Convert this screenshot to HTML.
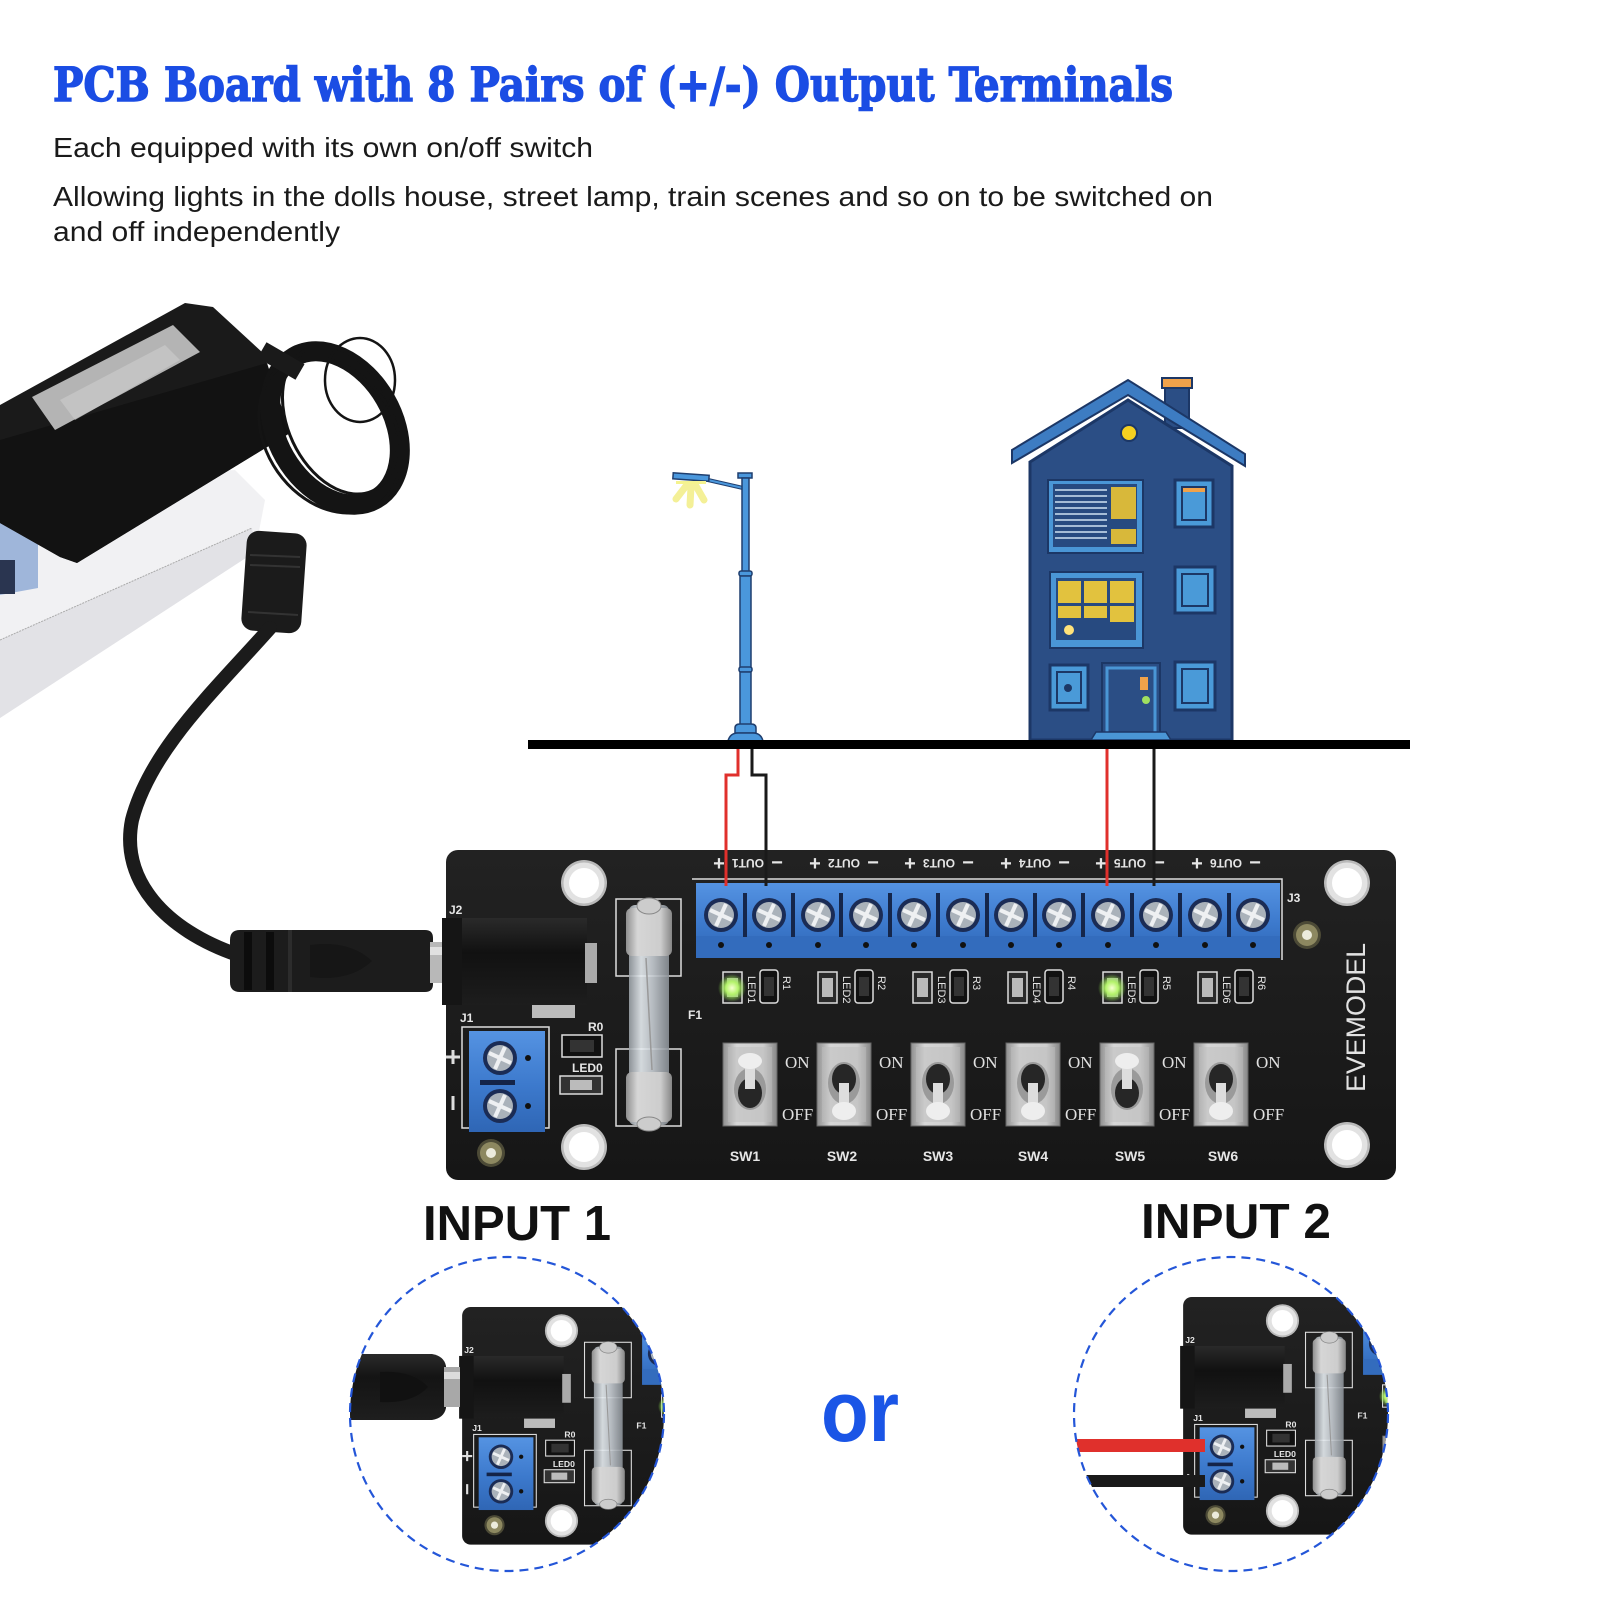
<!DOCTYPE html>
<html><head><meta charset="utf-8">
<style>
html,body{margin:0;padding:0;background:#fff;}
svg{display:block}
</style></head><body>
<svg width="1601" height="1601" viewBox="0 0 1601 1601" xmlns="http://www.w3.org/2000/svg" xmlns:xlink="http://www.w3.org/1999/xlink">
<defs>
 <linearGradient id="pcb" x1="0" y1="0" x2="0" y2="1"><stop offset="0" stop-color="#222"/><stop offset="1" stop-color="#161616"/></linearGradient>
 <linearGradient id="blue" x1="0" y1="0" x2="0" y2="1"><stop offset="0" stop-color="#5593e2"/><stop offset="0.55" stop-color="#3c79cc"/><stop offset="1" stop-color="#2f66b5"/></linearGradient>
 <linearGradient id="silver" x1="0" y1="0" x2="1" y2="0"><stop offset="0" stop-color="#8f8f8f"/><stop offset="0.25" stop-color="#d6d6d6"/><stop offset="0.75" stop-color="#cdcdcd"/><stop offset="1" stop-color="#868686"/></linearGradient>
 <linearGradient id="glass" x1="0" y1="0" x2="1" y2="0"><stop offset="0" stop-color="#9aa0a6"/><stop offset="0.3" stop-color="#e8eef2"/><stop offset="0.6" stop-color="#c6ccd2"/><stop offset="1" stop-color="#8a9096"/></linearGradient>
 <linearGradient id="jack" x1="0" y1="0" x2="0" y2="1"><stop offset="0" stop-color="#2a2a2a"/><stop offset="0.4" stop-color="#111"/><stop offset="1" stop-color="#1d1d1d"/></linearGradient>
 <linearGradient id="plugg" x1="0" y1="0" x2="0" y2="1"><stop offset="0" stop-color="#2a2a2a"/><stop offset="0.35" stop-color="#141414"/><stop offset="1" stop-color="#1e1e1e"/></linearGradient>
 <radialGradient id="glow"><stop offset="0" stop-color="#f6ffd0"/><stop offset="0.45" stop-color="#b4f36a"/><stop offset="1" stop-color="#7fd640" stop-opacity="0"/></radialGradient>
 <clipPath id="c1"><circle cx="507" cy="1414" r="157"/></clipPath>
 <clipPath id="c2"><circle cx="1231" cy="1414" r="157"/></clipPath>

 <g id="screw"><circle r="17" fill="#1b2c55"/><circle r="13" fill="#aab2ba"/><path d="M-11 -5 L11 5 M-5 11 L5 -11" stroke="#eef0f2" stroke-width="4"/></g>
 <g id="mh"><circle r="23" fill="#b9b9b9"/><circle r="20.5" fill="#e2e2e2"/><circle r="15" fill="#fff"/></g>
 <g id="ring"><circle r="14" fill="#4c4a36"/><circle r="11" fill="#8d8860"/><circle r="5" fill="#ecebdc"/></g>

 <g id="plug">
  <path d="M240 930 L425 930 Q433 930 433 938 L433 984 Q433 992 425 992 L240 992 Q230 992 230 982 L230 940 Q230 930 240 930 Z" fill="#1c1c1c"/>
  <rect x="244" y="932" width="8" height="58" fill="#0c0c0c"/>
  <rect x="266" y="932" width="8" height="58" fill="#0c0c0c"/>
  <rect x="288" y="930" width="4" height="62" fill="#2c2c2c"/>
  <path d="M310 945 Q350 940 372 961 Q350 982 310 977 Z" fill="#161616"/>
  <rect x="430" y="942" width="14" height="41" fill="#b8b8b8"/>
  <rect x="430" y="947" width="14" height="8" fill="#e0e0e0"/>
 </g>

 <g id="board">
  <rect x="446" y="850" width="950" height="330" rx="12" fill="url(#pcb)"/>
  <use href="#mh" x="584" y="883"/>
  <use href="#mh" x="584" y="1147"/>
  <use href="#mh" x="1347" y="883"/>
  <use href="#mh" x="1347" y="1145"/>
  <use href="#ring" x="491" y="1153"/>
  <use href="#ring" x="1307" y="935"/>
  <g font-family="Liberation Sans, sans-serif" font-weight="bold" fill="#e6e6e6" font-size="12">
   <text x="449" y="914">J2</text>
   <text x="460" y="1022">J1</text>
   <text x="588" y="1031">R0</text>
   <text x="572" y="1072">LED0</text>
   <text x="688" y="1019">F1</text>
   <text x="1287" y="902">J3</text>
  </g>
  <rect x="442" y="918" width="145" height="87" fill="url(#jack)"/>
  <rect x="442" y="918" width="20" height="87" fill="#151515"/>
  <rect x="585" y="943" width="12" height="40" fill="#aaa"/>
  <rect x="532" y="1005" width="43" height="13" fill="#bbb"/>
  <rect x="462" y="1027" width="87" height="101" fill="none" stroke="#ddd" stroke-width="1.5"/>
  <rect x="469" y="1031" width="76" height="101" fill="url(#blue)"/>
  <rect x="480" y="1080" width="35" height="5" fill="#142448"/>
  <use href="#screw" x="500" y="1058"/>
  <use href="#screw" x="500" y="1106"/>
  <circle cx="528" cy="1058" r="3" fill="#111"/>
  <circle cx="528" cy="1106" r="3" fill="#111"/>
  <path d="M446 1057 H460 M453 1050 V1064" stroke="#ddd" stroke-width="3"/>
  <path d="M453 1096 V1110" stroke="#ddd" stroke-width="3"/>
  <rect x="562" y="1035" width="40" height="22" fill="#111" stroke="#ddd" stroke-width="1.5"/>
  <rect x="570" y="1040" width="24" height="12" fill="#333"/>
  <rect x="560" y="1076" width="42" height="18" fill="#333" stroke="#ddd" stroke-width="1.5"/>
  <rect x="570" y="1080" width="22" height="10" fill="#bbb"/>
  <rect x="616" y="899" width="65" height="77" fill="none" stroke="#ddd" stroke-width="1.5"/>
  <rect x="616" y="1049" width="65" height="77" fill="none" stroke="#ddd" stroke-width="1.5"/>
  <rect x="629" y="905" width="40" height="220" rx="6" fill="url(#glass)" opacity="0.9"/>
  <rect x="626" y="908" width="46" height="48" rx="6" fill="url(#silver)"/>
  <rect x="626" y="1072" width="46" height="50" rx="6" fill="url(#silver)"/>
  <ellipse cx="649" cy="906" rx="12" ry="8" fill="#ccc" stroke="#888"/>
  <ellipse cx="649" cy="1124" rx="12" ry="7" fill="#ccc" stroke="#888"/>
  <line x1="646" y1="958" x2="652" y2="1070" stroke="#999" stroke-width="1.5"/>
  <path d="M692 879 H1282 V960" fill="none" stroke="#ddd" stroke-width="1.5"/>
  <rect x="696" y="883" width="584" height="75" fill="url(#blue)"/>
  <rect x="696" y="936" width="584" height="22" fill="#336cbd"/>
  <g fill="#15264a">
   <rect x="743" y="893" width="4" height="44"/><rect x="791" y="893" width="4" height="44"/><rect x="839" y="893" width="4" height="44"/><rect x="888" y="893" width="4" height="44"/><rect x="936" y="893" width="4" height="44"/><rect x="985" y="893" width="4" height="44"/><rect x="1033" y="893" width="4" height="44"/><rect x="1081" y="893" width="4" height="44"/><rect x="1130" y="893" width="4" height="44"/><rect x="1178" y="893" width="4" height="44"/><rect x="1227" y="893" width="4" height="44"/>
  </g>
  <use href="#screw" x="721" y="915"/><use href="#screw" x="769" y="915"/><use href="#screw" x="818" y="915"/><use href="#screw" x="866" y="915"/><use href="#screw" x="914" y="915"/><use href="#screw" x="963" y="915"/><use href="#screw" x="1011" y="915"/><use href="#screw" x="1059" y="915"/><use href="#screw" x="1108" y="915"/><use href="#screw" x="1156" y="915"/><use href="#screw" x="1205" y="915"/><use href="#screw" x="1253" y="915"/>
  <g fill="#111">
   <circle cx="721" cy="945" r="3"/><circle cx="769" cy="945" r="3"/><circle cx="818" cy="945" r="3"/><circle cx="866" cy="945" r="3"/><circle cx="914" cy="945" r="3"/><circle cx="963" cy="945" r="3"/><circle cx="1011" cy="945" r="3"/><circle cx="1059" cy="945" r="3"/><circle cx="1108" cy="945" r="3"/><circle cx="1156" cy="945" r="3"/><circle cx="1205" cy="945" r="3"/><circle cx="1253" cy="945" r="3"/>
  </g>
  <g font-family="Liberation Sans, sans-serif" font-weight="bold" fill="#e6e6e6">
   <g font-size="20" text-anchor="middle">
    <text x="719" y="870">+</text><text x="777" y="869">−</text>
    <text x="815" y="870">+</text><text x="873" y="869">−</text>
    <text x="910" y="870">+</text><text x="968" y="869">−</text>
    <text x="1006" y="870">+</text><text x="1064" y="869">−</text>
    <text x="1101" y="870">+</text><text x="1159" y="869">−</text>
    <text x="1197" y="870">+</text><text x="1255" y="869">−</text>
   </g>
   <g font-size="12" text-anchor="middle">
    <text transform="rotate(180 748 863)" x="748" y="867">OUT1</text>
    <text transform="rotate(180 844 863)" x="844" y="867">OUT2</text>
    <text transform="rotate(180 939 863)" x="939" y="867">OUT3</text>
    <text transform="rotate(180 1035 863)" x="1035" y="867">OUT4</text>
    <text transform="rotate(180 1130 863)" x="1130" y="867">OUT5</text>
    <text transform="rotate(180 1226 863)" x="1226" y="867">OUT6</text>
   </g>
  </g>
  <g font-family="Liberation Sans, sans-serif" font-size="11" fill="#e6e6e6">
   <g transform="translate(723,0)"><rect x="0" y="972" width="19" height="31" fill="#2a2a2a" stroke="#ddd" stroke-width="1.5"/><rect x="4" y="978" width="11" height="19" fill="#bbb"/><text transform="rotate(90 25 976)" x="25" y="976">LED1</text><rect x="37" y="970" width="18" height="33" rx="3" fill="#111" stroke="#ddd" stroke-width="1.5"/><rect x="41" y="977" width="10" height="19" fill="#333"/><text transform="rotate(90 60 976)" x="60" y="976">R1</text></g>
   <g transform="translate(818,0)"><rect x="0" y="972" width="19" height="31" fill="#2a2a2a" stroke="#ddd" stroke-width="1.5"/><rect x="4" y="978" width="11" height="19" fill="#bbb"/><text transform="rotate(90 25 976)" x="25" y="976">LED2</text><rect x="37" y="970" width="18" height="33" rx="3" fill="#111" stroke="#ddd" stroke-width="1.5"/><rect x="41" y="977" width="10" height="19" fill="#333"/><text transform="rotate(90 60 976)" x="60" y="976">R2</text></g>
   <g transform="translate(913,0)"><rect x="0" y="972" width="19" height="31" fill="#2a2a2a" stroke="#ddd" stroke-width="1.5"/><rect x="4" y="978" width="11" height="19" fill="#bbb"/><text transform="rotate(90 25 976)" x="25" y="976">LED3</text><rect x="37" y="970" width="18" height="33" rx="3" fill="#111" stroke="#ddd" stroke-width="1.5"/><rect x="41" y="977" width="10" height="19" fill="#333"/><text transform="rotate(90 60 976)" x="60" y="976">R3</text></g>
   <g transform="translate(1008,0)"><rect x="0" y="972" width="19" height="31" fill="#2a2a2a" stroke="#ddd" stroke-width="1.5"/><rect x="4" y="978" width="11" height="19" fill="#bbb"/><text transform="rotate(90 25 976)" x="25" y="976">LED4</text><rect x="37" y="970" width="18" height="33" rx="3" fill="#111" stroke="#ddd" stroke-width="1.5"/><rect x="41" y="977" width="10" height="19" fill="#333"/><text transform="rotate(90 60 976)" x="60" y="976">R4</text></g>
   <g transform="translate(1103,0)"><rect x="0" y="972" width="19" height="31" fill="#2a2a2a" stroke="#ddd" stroke-width="1.5"/><rect x="4" y="978" width="11" height="19" fill="#bbb"/><text transform="rotate(90 25 976)" x="25" y="976">LED5</text><rect x="37" y="970" width="18" height="33" rx="3" fill="#111" stroke="#ddd" stroke-width="1.5"/><rect x="41" y="977" width="10" height="19" fill="#333"/><text transform="rotate(90 60 976)" x="60" y="976">R5</text></g>
   <g transform="translate(1198,0)"><rect x="0" y="972" width="19" height="31" fill="#2a2a2a" stroke="#ddd" stroke-width="1.5"/><rect x="4" y="978" width="11" height="19" fill="#bbb"/><text transform="rotate(90 25 976)" x="25" y="976">LED6</text><rect x="37" y="970" width="18" height="33" rx="3" fill="#111" stroke="#ddd" stroke-width="1.5"/><rect x="41" y="977" width="10" height="19" fill="#333"/><text transform="rotate(90 60 976)" x="60" y="976">R6</text></g>
  </g>
  <circle cx="732" cy="988" r="14" fill="url(#glow)"/>
  <circle cx="1112" cy="988" r="14" fill="url(#glow)"/>
  <g font-family="Liberation Serif, serif" font-size="17" fill="#e0e0e0">
   <g transform="translate(723,1043)"><rect width="54" height="83" fill="url(#silver)" stroke="#666"/><rect x="5" y="4" width="44" height="75" fill="#bdbdbd" opacity="0.5"/><ellipse cx="27" cy="46" rx="16" ry="21" fill="#9a9a9a"/><ellipse cx="27" cy="50" rx="12" ry="15" fill="#262626"/><rect x="22" y="18" width="10" height="28" fill="#ddd"/><ellipse cx="27" cy="18" rx="12" ry="8" fill="#eee"/><text x="62" y="25">ON</text><text x="59" y="77">OFF</text></g>
   <g transform="translate(817,1043)"><rect width="54" height="83" fill="url(#silver)" stroke="#666"/><rect x="5" y="4" width="44" height="75" fill="#bdbdbd" opacity="0.5"/><ellipse cx="27" cy="40" rx="16" ry="21" fill="#9a9a9a"/><ellipse cx="27" cy="36" rx="12" ry="15" fill="#262626"/><rect x="22" y="40" width="10" height="28" fill="#ddd"/><ellipse cx="27" cy="68" rx="12" ry="9" fill="#eee"/><text x="62" y="25">ON</text><text x="59" y="77">OFF</text></g>
   <g transform="translate(911,1043)"><rect width="54" height="83" fill="url(#silver)" stroke="#666"/><rect x="5" y="4" width="44" height="75" fill="#bdbdbd" opacity="0.5"/><ellipse cx="27" cy="40" rx="16" ry="21" fill="#9a9a9a"/><ellipse cx="27" cy="36" rx="12" ry="15" fill="#262626"/><rect x="22" y="40" width="10" height="28" fill="#ddd"/><ellipse cx="27" cy="68" rx="12" ry="9" fill="#eee"/><text x="62" y="25">ON</text><text x="59" y="77">OFF</text></g>
   <g transform="translate(1006,1043)"><rect width="54" height="83" fill="url(#silver)" stroke="#666"/><rect x="5" y="4" width="44" height="75" fill="#bdbdbd" opacity="0.5"/><ellipse cx="27" cy="40" rx="16" ry="21" fill="#9a9a9a"/><ellipse cx="27" cy="36" rx="12" ry="15" fill="#262626"/><rect x="22" y="40" width="10" height="28" fill="#ddd"/><ellipse cx="27" cy="68" rx="12" ry="9" fill="#eee"/><text x="62" y="25">ON</text><text x="59" y="77">OFF</text></g>
   <g transform="translate(1100,1043)"><rect width="54" height="83" fill="url(#silver)" stroke="#666"/><rect x="5" y="4" width="44" height="75" fill="#bdbdbd" opacity="0.5"/><ellipse cx="27" cy="46" rx="16" ry="21" fill="#9a9a9a"/><ellipse cx="27" cy="50" rx="12" ry="15" fill="#262626"/><rect x="22" y="18" width="10" height="28" fill="#ddd"/><ellipse cx="27" cy="18" rx="12" ry="8" fill="#eee"/><text x="62" y="25">ON</text><text x="59" y="77">OFF</text></g>
   <g transform="translate(1194,1043)"><rect width="54" height="83" fill="url(#silver)" stroke="#666"/><rect x="5" y="4" width="44" height="75" fill="#bdbdbd" opacity="0.5"/><ellipse cx="27" cy="40" rx="16" ry="21" fill="#9a9a9a"/><ellipse cx="27" cy="36" rx="12" ry="15" fill="#262626"/><rect x="22" y="40" width="10" height="28" fill="#ddd"/><ellipse cx="27" cy="68" rx="12" ry="9" fill="#eee"/><text x="62" y="25">ON</text><text x="59" y="77">OFF</text></g>
  </g>
  <g font-family="Liberation Sans, sans-serif" font-weight="bold" font-size="14" fill="#e6e6e6" text-anchor="middle">
   <text x="745" y="1161">SW1</text><text x="842" y="1161">SW2</text><text x="938" y="1161">SW3</text><text x="1033" y="1161">SW4</text><text x="1130" y="1161">SW5</text><text x="1223" y="1161">SW6</text>
  </g>
  <text transform="rotate(-90 1365 1092)" x="1365" y="1092" font-family="Liberation Sans, sans-serif" font-size="27" fill="#e2e2e2" textLength="149" lengthAdjust="spacingAndGlyphs">EVEMODEL</text>
 </g>
</defs>

<!-- Header text -->
<text x="53" y="101" font-family="DejaVu Serif, Liberation Serif, serif" font-weight="bold" font-size="47" fill="#1b4de4" stroke="#1b4de4" stroke-width="1.4" textLength="1120" lengthAdjust="spacingAndGlyphs">PCB Board with 8 Pairs of (+/-) Output Terminals</text>
<g font-family="Liberation Sans, Arial, sans-serif" font-size="28" fill="#1a1a1a">
 <text x="53" y="157" textLength="540" lengthAdjust="spacingAndGlyphs">Each equipped with its own on/off switch</text>
 <text x="53" y="206" textLength="1160" lengthAdjust="spacingAndGlyphs">Allowing lights in the dolls house, street lamp, train scenes and so on to be switched on</text>
 <text x="53" y="241" textLength="287" lengthAdjust="spacingAndGlyphs">and off independently</text>
</g>

<!-- Power strip -->
<polygon points="0,482 235,470 265,500 255,552 0,718" fill="#f1f1f3"/>
<polygon points="0,640 252,528 255,552 0,718" fill="#e2e2e6"/>
<line x1="0" y1="640" x2="252" y2="528" stroke="#aaa" stroke-width="1" stroke-dasharray="2 1"/>
<polygon points="0,500 38,495 38,588 0,595" fill="#9fb6da"/>
<rect x="0" y="560" width="15" height="34" fill="#2a3550"/>

<!-- Adapter -->
<polygon points="0,405 185,303 213,307 263,353 287,423 290,433 77,563 60,557 0,523" fill="#1a1a1a"/>
<polygon points="0,440 267,363 290,433 77,563 60,557 0,523" fill="#121212"/>
<polygon points="32,397 173,325 200,352 55,430" fill="#b4b4b4"/>
<polygon points="60,400 165,345 180,360 75,420" fill="#c9c9c9" opacity="0.7"/>
<g fill="none" stroke="#141414">
 <ellipse cx="335" cy="428" rx="58" ry="82" transform="rotate(-30 335 428)" stroke-width="20"/>
 <ellipse cx="340" cy="420" rx="52" ry="78" transform="rotate(-25 340 420)" stroke-width="3"/>
 <ellipse cx="330" cy="435" rx="64" ry="84" transform="rotate(-35 330 435)" stroke-width="3"/>
 <ellipse cx="360" cy="380" rx="35" ry="42" stroke-width="2.5"/>
</g>
<path d="M262 350 L300 372" stroke="#1a1a1a" stroke-width="18"/>
<rect x="244" y="532" width="60" height="100" rx="12" fill="#1b1b1b" transform="rotate(4 274 582)"/>
<g stroke="#333" stroke-width="2"><line x1="250" y1="555" x2="300" y2="557"/><line x1="250" y1="565" x2="300" y2="567"/><line x1="248" y1="612" x2="298" y2="615"/></g>
<path d="M270 628 C215 690 150 750 132 820 C120 880 165 930 238 955" fill="none" stroke="#1b1b1b" stroke-width="14" stroke-linecap="round"/>
<use href="#plug"/>

<!-- Street lamp -->
<g stroke="#f3ee86" stroke-width="7" stroke-linecap="round" opacity="0.85">
 <line x1="686" y1="486" x2="676" y2="499"/><line x1="691" y1="487" x2="690" y2="505"/><line x1="696" y1="486" x2="704" y2="500"/>
</g>
<line x1="708" y1="480" x2="743" y2="488" stroke="#1f3e6e" stroke-width="4"/>
<line x1="708" y1="480" x2="743" y2="488" stroke="#4a97dc" stroke-width="2"/>
<g fill="#4a97dc" stroke="#1f3e6e" stroke-width="1.5">
 <rect x="673" y="474" width="36" height="6" transform="rotate(4 690 477)"/>
 <rect x="738" y="473" width="14" height="5"/>
 <rect x="742" y="478" width="7" height="95"/>
 <rect x="739" y="571" width="13" height="5" rx="2"/>
 <rect x="740" y="576" width="11" height="92"/>
 <rect x="739" y="667" width="13" height="5" rx="2"/>
 <rect x="740" y="672" width="11" height="54"/>
 <path d="M735 733 L735 728 Q735 724 740 724 L751 724 Q756 724 756 728 L756 733 Z"/>
 <path d="M728 741 Q730 733 738 733 L753 733 Q761 733 763 741 Z"/>
</g>
<rect x="676" y="481" width="30" height="3" fill="#f5f38f"/>

<!-- House -->
<g stroke="#1c3766">
 <rect x="1165" y="384" width="24" height="44" fill="#2b4e85" stroke-width="2"/>
 <rect x="1162" y="378" width="30" height="10" fill="#f0a24a" stroke-width="2"/>
 <polygon points="1030,462 1128,400 1232,466 1232,740 1030,740" fill="#2b4e85" stroke-width="3"/>
 <polygon points="1012,450 1128,380 1245,454 1245,466 1128,395 1012,463" fill="#3d7cc2" stroke-width="2"/>
 <circle cx="1129" cy="433" r="8" fill="#f5d020" stroke-width="2"/>
 <rect x="1048" y="480" width="95" height="73" fill="#4a96d6" stroke-width="2"/>
 <rect x="1053" y="484" width="84" height="63" fill="#274a80" stroke="none"/>
 <g stroke="#cfe2f2" stroke-width="1.6">
  <line x1="1055" y1="490" x2="1107" y2="490"/><line x1="1055" y1="496" x2="1107" y2="496"/><line x1="1055" y1="502" x2="1107" y2="502"/><line x1="1055" y1="508" x2="1107" y2="508"/><line x1="1055" y1="514" x2="1107" y2="514"/><line x1="1055" y1="520" x2="1107" y2="520"/><line x1="1055" y1="526" x2="1107" y2="526"/><line x1="1055" y1="532" x2="1107" y2="532"/><line x1="1055" y1="538" x2="1107" y2="538"/>
 </g>
 <rect x="1111" y="487" width="25" height="32" fill="#d8b83a" stroke="none"/>
 <rect x="1111" y="529" width="25" height="15" fill="#d8b83a" stroke="none"/>
 <rect x="1050" y="572" width="93" height="76" fill="#4a96d6" stroke-width="2"/>
 <rect x="1056" y="578" width="80" height="62" fill="#274a80" stroke="none"/>
 <g fill="#e2c23e" stroke="none">
  <rect x="1058" y="581" width="23" height="22"/><rect x="1084" y="581" width="23" height="22"/><rect x="1110" y="581" width="24" height="22"/>
  <rect x="1058" y="606" width="23" height="12"/><rect x="1084" y="606" width="23" height="12"/><rect x="1110" y="606" width="24" height="16"/>
 </g>
 <circle cx="1069" cy="630" r="5" fill="#ffe27a" stroke="none"/>
 <rect x="1175" y="480" width="38" height="47" fill="#4a9ad8" stroke-width="3"/>
 <rect x="1182" y="487" width="24" height="33" fill="#4a9ad8" stroke-width="2"/>
 <rect x="1183" y="488" width="22" height="4" fill="#f0a24a" stroke="none"/>
 <rect x="1175" y="567" width="40" height="46" fill="#4a9ad8" stroke-width="3"/>
 <rect x="1182" y="574" width="26" height="32" fill="#4a9ad8" stroke-width="2"/>
 <rect x="1175" y="662" width="40" height="48" fill="#4a9ad8" stroke-width="3"/>
 <rect x="1182" y="669" width="26" height="34" fill="#4a9ad8" stroke-width="2"/>
 <rect x="1050" y="665" width="38" height="45" fill="#4a9ad8" stroke-width="3"/>
 <rect x="1057" y="672" width="24" height="31" fill="#4a9ad8" stroke-width="2"/>
 <circle cx="1068" cy="688" r="4" fill="#1c3766" stroke="none"/>
 <rect x="1102" y="663" width="58" height="70" fill="#2b4e85" stroke-width="2"/>
 <rect x="1107" y="668" width="48" height="65" fill="#2b4e85" stroke="#4a96d6" stroke-width="3"/>
 <rect x="1140" y="677" width="8" height="13" fill="#f0a24a" stroke="none"/>
 <circle cx="1146" cy="700" r="4" fill="#9fe060" stroke="none"/>
 <polygon points="1096,732 1166,732 1171,740 1091,740" fill="#4a96d6" stroke-width="1.5"/>
</g>

<!-- ground -->
<rect x="528" y="740" width="882" height="9" fill="#000"/>

<!-- Board -->
<use href="#board"/>

<!-- wires -->
<path d="M738 749 V775 H726 V886" fill="none" stroke="#e0302c" stroke-width="3"/>
<path d="M752 749 V775 H766 V886" fill="none" stroke="#1a1a1a" stroke-width="3"/>
<line x1="1107" y1="749" x2="1107" y2="886" stroke="#e0302c" stroke-width="3"/>
<line x1="1154" y1="749" x2="1154" y2="886" stroke="#1a1a1a" stroke-width="3"/>

<!-- INPUT labels -->
<g font-family="Liberation Sans, Arial, sans-serif" font-weight="bold" font-size="49" fill="#111">
 <text x="423" y="1240" textLength="188" lengthAdjust="spacingAndGlyphs">INPUT 1</text>
 <text x="1141" y="1238" textLength="190" lengthAdjust="spacingAndGlyphs">INPUT 2</text>
</g>
<text x="821" y="1441" font-family="Liberation Sans, Arial, sans-serif" font-weight="bold" font-size="86" fill="#1a55e6" textLength="78" lengthAdjust="spacingAndGlyphs">or</text>

<!-- Circle 1 -->
<g clip-path="url(#c1)">
 <g transform="translate(141,695) scale(0.72)">
  <use href="#board"/>
 </g>
 <path d="M300 1354 L432 1354 Q444 1356 446 1366 L446 1408 Q444 1418 432 1420 L300 1420 Z" fill="url(#plugg)"/>
 <path d="M380 1372 Q412 1370 428 1387 Q412 1404 380 1402 Z" fill="#111"/>
 <rect x="444" y="1367" width="16" height="40" fill="#a8a8a8"/>
 <rect x="444" y="1372" width="16" height="7" fill="#dcdcdc"/>
</g>
<circle cx="507" cy="1414" r="157" fill="none" stroke="#2456d8" stroke-width="2.2" stroke-dasharray="9 6"/>

<!-- Circle 2 -->
<g clip-path="url(#c2)">
 <g transform="translate(862,685) scale(0.72)">
  <use href="#board"/>
 </g>
 <rect x="1050" y="1439" width="155" height="13" fill="#e0302c"/>
 <rect x="1050" y="1475" width="155" height="12" fill="#1a1a1a"/>
</g>
<circle cx="1231" cy="1414" r="157" fill="none" stroke="#2456d8" stroke-width="2.2" stroke-dasharray="9 6"/>
</svg>
</body></html>
